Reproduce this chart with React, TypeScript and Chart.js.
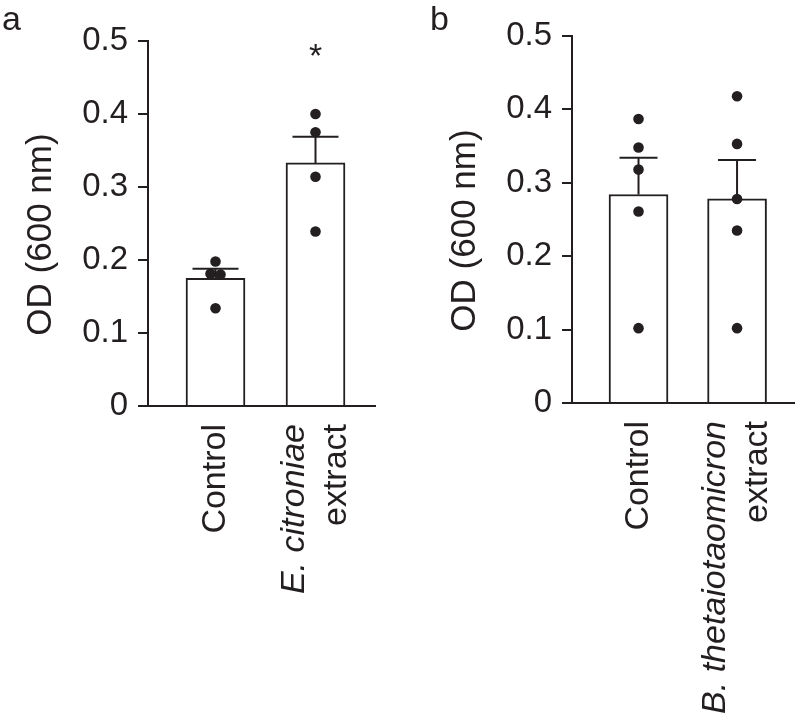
import React, { useEffect, useRef } from "react";
import { Chart, registerables } from "chart.js";

Chart.register(...registerables);

// ---------- data ----------
const yTicksMax = 0.5;
const yTickStep = 0.1;
const yAxisTitle = "OD (600 nm)";

// Panel a
const panelALetter = "a";
const meansA = [0.175, 0.333];
const semA = [0.013, 0.036];
const pointsAControl = [0.198, 0.181, 0.18, 0.134];
const pointsAExtract = [0.4, 0.375, 0.314, 0.239];
const labelsA = [
  [{ text: "Control", italic: false }],
  [
    { text: "E. citroniae", italic: true },
    { text: "extract", italic: false },
  ],
];
const significanceA = ["", "*"];

// Panel b
const panelBLetter = "b";
const meansB = [0.284, 0.278];
const semB = [0.05, 0.053];
const pointsBControl = [0.387, 0.348, 0.318, 0.261, 0.102];
const pointsBExtract = [0.418, 0.353, 0.278, 0.235, 0.102];
const labelsB = [
  [{ text: "Control", italic: false }],
  [
    { text: "B. thetaiotaomicron", italic: true },
    { text: "extract", italic: false },
  ],
];
const significanceB = ["", ""];

// ---------- styling ----------
const INK = "#231f20";
const FONT = "'Liberation Sans', Arial, Helvetica, sans-serif";
const W = 400;
const H = 725;

type Line = { text: string; italic: boolean };
type Spec = {
  letter: string;
  means: number[];
  sems: number[];
  points: number[][];
  labels: Line[][];
  signif: string[];
  left: number;
  top: number;
  bottom: number;
  right: number;
  xMin: number;
  xMax: number;
  capHalf: number;
  letterX: number;
};

function jitter(values: number[]): number[] {
  // spread out points that would overlap (beeswarm-like)
  return values.map((v, i) => {
    const cluster = values
      .map((w, j) => ({ w, j }))
      .filter((o) => Math.abs(o.w - v) < 0.008);
    if (cluster.length < 2) return 0;
    const rank = cluster.findIndex((o) => o.j === i);
    return (rank - (cluster.length - 1) / 2) * 0.1;
  });
}

const annotPlugin = {
  id: "annot",
  afterDatasetDraw(chart: any, args: any, opts: any) {
    if (args.index !== 0) return;
    const spec: Spec = opts.spec;
    const ctx = chart.ctx;
    const xs = chart.scales.x;
    const ys = chart.scales.y;
    ctx.save();
    ctx.strokeStyle = INK;
    ctx.lineWidth = 2;
    spec.means.forEach((m, i) => {
      const x = xs.getPixelForValue(i + 1);
      const y0 = ys.getPixelForValue(m);
      const y1 = ys.getPixelForValue(m + spec.sems[i]);
      ctx.beginPath();
      ctx.moveTo(x, y0);
      ctx.lineTo(x, y1);
      ctx.moveTo(x - spec.capHalf, y1);
      ctx.lineTo(x + spec.capHalf, y1);
      ctx.stroke();
    });
    ctx.restore();
  },
  afterDraw(chart: any, _args: any, opts: any) {
    const spec: Spec = opts.spec;
    const ctx = chart.ctx;
    const xs = chart.scales.x;
    const ys = chart.scales.y;
    const area = chart.chartArea;
    ctx.save();
    ctx.fillStyle = INK;

    // panel letter
    ctx.font = `34px ${FONT}`;
    ctx.textAlign = "left";
    ctx.textBaseline = "alphabetic";
    ctx.fillText(spec.letter, spec.letterX, 30);

    // y axis title
    ctx.save();
    ctx.font = `35px ${FONT}`;
    ctx.translate(area.left - 97, (area.top + area.bottom) / 2 + 11);
    ctx.rotate(-Math.PI / 2);
    ctx.textAlign = "center";
    ctx.textBaseline = "alphabetic";
    ctx.fillText(yAxisTitle, 0, 0);
    ctx.restore();

    // category labels (rotated)
    const lineGap = 42;
    spec.labels.forEach((lines, i) => {
      const cx = xs.getPixelForValue(i + 1);
      lines.forEach((ln, k) => {
        const bx = cx + (k - (lines.length - 1) / 2) * lineGap + 9;
        ctx.save();
        ctx.font = `${ln.italic ? "italic " : ""}34px ${FONT}`;
        ctx.translate(bx, area.bottom + 18);
        ctx.rotate(-Math.PI / 2);
        ctx.textAlign = "right";
        ctx.textBaseline = "alphabetic";
        ctx.fillText(ln.text, 0, 0);
        ctx.restore();
      });
    });

    // significance marks
    ctx.font = `34px ${FONT}`;
    ctx.textAlign = "center";
    ctx.textBaseline = "alphabetic";
    spec.signif.forEach((s, i) => {
      if (!s) return;
      ctx.fillText(s, xs.getPixelForValue(i + 1), ys.getPixelForValue(yTicksMax) + 26);
    });
    ctx.restore();
  },
};

function makeConfig(spec: Spec): any {
  const scatterData: { x: number; y: number }[] = [];
  spec.points.forEach((vals, i) => {
    const off = jitter(vals);
    vals.forEach((v, j) => scatterData.push({ x: i + 1 + off[j], y: v }));
  });
  return {
    type: "bar",
    data: {
      datasets: [
        {
          type: "bar",
          data: spec.means.map((m, i) => ({ x: i + 1, y: m })),
          backgroundColor: "#ffffff",
          borderColor: INK,
          borderWidth: 2,
          barThickness: 59,
          order: 2,
        },
        {
          type: "scatter",
          data: scatterData,
          pointRadius: 5.3,
          pointBackgroundColor: INK,
          pointBorderWidth: 0,
          pointBorderColor: INK,
          order: 1,
        },
      ],
    },
    options: {
      animation: false,
      responsive: false,
      events: [],
      layout: { padding: { top: spec.top, right: spec.right, left: 0, bottom: 0 } },
      plugins: {
        legend: { display: false },
        tooltip: { enabled: false },
        annot: { spec },
      },
      scales: {
        x: {
          type: "linear",
          min: spec.xMin,
          max: spec.xMax,
          offset: false,
          grid: { display: false },
          border: { display: true, width: 2, color: INK },
          ticks: { display: false },
          afterFit: (s: any) => {
            s.height = H - spec.bottom;
          },
        },
        y: {
          type: "linear",
          min: 0,
          max: yTicksMax,
          ticks: {
            stepSize: yTickStep,
            color: INK,
            padding: 10,
            font: { family: FONT, size: 33 },
          },
          grid: {
            drawOnChartArea: false,
            drawTicks: true,
            tickLength: 10,
            lineWidth: 2,
            color: INK,
          },
          border: { display: true, width: 2, color: INK },
          afterFit: (s: any) => {
            s.width = spec.left;
          },
        },
      },
    },
    plugins: [annotPlugin],
  };
}

const specA: Spec = {
  letter: panelALetter,
  means: meansA,
  sems: semA,
  points: [pointsAControl, pointsAExtract],
  labels: labelsA,
  signif: significanceA,
  left: 148,
  top: 41,
  bottom: 406,
  right: 25,
  xMin: 0.325,
  xMax: 2.595,
  capHalf: 23,
  letterX: 2,
};

const specB: Spec = {
  letter: panelBLetter,
  means: meansB,
  sems: semB,
  points: [pointsBControl, pointsBExtract],
  labels: labelsB,
  signif: significanceB,
  left: 172,
  top: 36,
  bottom: 403,
  right: 2,
  xMin: 0.325,
  xMax: 2.585,
  capHalf: 19,
  letterX: 30,
};

function Panel({ spec }: { spec: Spec }) {
  const ref = useRef<HTMLCanvasElement>(null);
  useEffect(() => {
    const chart = new Chart(ref.current as HTMLCanvasElement, makeConfig(spec));
    return () => chart.destroy();
  }, [spec]);
  return (
    <canvas
      ref={ref}
      width={W}
      height={H}
      style={{ display: "block", width: W, height: H }}
    />
  );
}

export default function App() {
  return (
    <div
      style={{
        position: "absolute",
        left: 0,
        top: 0,
        width: 800,
        height: 725,
        display: "flex",
        background: "#ffffff",
      }}
    >
      <Panel spec={specA} />
      <Panel spec={specB} />
    </div>
  );
}
